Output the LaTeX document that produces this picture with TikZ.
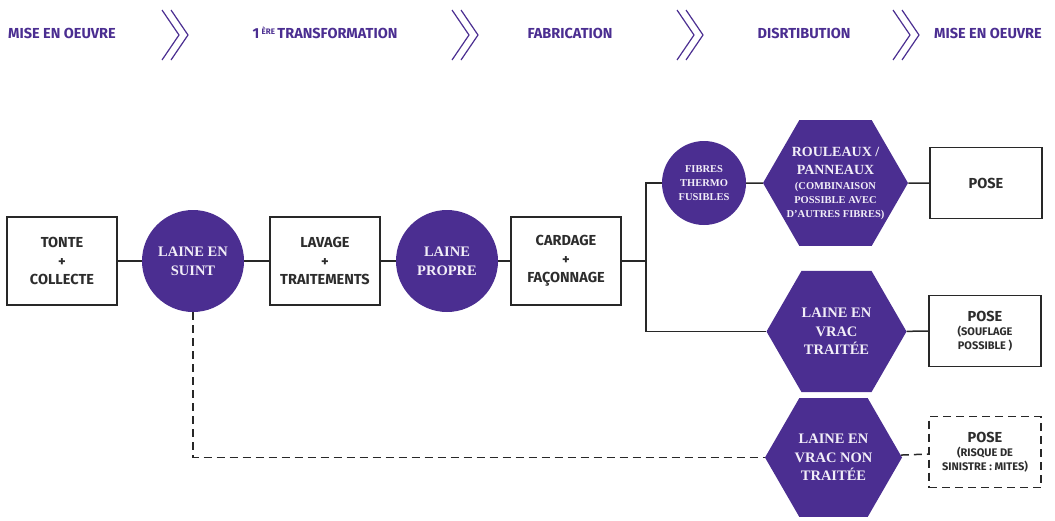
\documentclass[tikz,border=0pt]{standalone}
\usepackage{fontspec}
\setmainfont{Liberation Serif}
\setsansfont{Fira Sans}
\usetikzlibrary{shapes.geometric}
\definecolor{laineviolet}{RGB}{75,46,145}
\definecolor{trait}{RGB}{40,40,40}
\definecolor{texte}{RGB}{45,45,45}
\definecolor{clair}{RGB}{242,238,248}
\newcommand{\petitserif}{\fontsize{10.5}{14}\selectfont}
\newcommand{\petitsans}{\fontsize{11}{14}\selectfont}

\begin{document}
\begin{tikzpicture}[x=1pt,y=-1pt,
	etape/.style={text=laineviolet, font=\sffamily\bfseries\fontsize{14.5}{16}\selectfont},
	boite/.style={draw=trait, line width=1.5pt, fill=white, minimum width=110pt, minimum height=88pt,
		align=center, text=texte, font=\sffamily\bfseries\fontsize{14.5}{18.5}\selectfont},
	pose/.style={boite, minimum width=112pt, minimum height=71pt},
	rond/.style={circle, fill=laineviolet, inner sep=0pt, minimum size=102pt, align=center,
		text=clair, font=\bfseries\fontsize{14.5}{19}\selectfont},
	hexa/.style={regular polygon, regular polygon sides=6, fill=laineviolet, inner sep=0pt,
		minimum size=140pt, align=center, text=clair, font=\bfseries\fontsize{14.5}{18.5}\selectfont},
	lien/.style={draw=trait, line width=1.5pt},
	pointille/.style={lien, dash pattern=on 8pt off 5pt}]
	\useasboundingbox (0,0) rectangle (1055,520);
	
	% Etapes
	\node[etape] (miseA) at (62,33) {MISE EN OEUVRE};
	\node[etape] (transfo) at (325,33) {1\,\raisebox{4pt}{\fontsize{8}{8}\selectfont ÈRE}\,TRANSFORMATION};
	\node[etape] (fabric) at (570,33) {FABRICATION};
	\node[etape] (distrib) at (804,33) {DISRTIBUTION};
	\node[etape] (miseB) at (988,33) {MISE EN OEUVRE};
	
	% Chevrons
	\foreach \x in {162,452,677,893}{
		\draw[laineviolet, line width=1.2pt] (\x,10) -- ++(17,25) -- ++(-17,25);
		\draw[laineviolet, line width=1.2pt] (\x+9,10) -- ++(17,25) -- ++(-17,25);
	}
	
	% Ligne principale
	\node[boite] (tonte) at (62,261) {TONTE\\+\\COLLECTE};
	\node[rond] (suint) at (193,261) {LAINE EN\\SUINT};
	\node[boite] (lavage) at (325,261) {LAVAGE\\+\\TRAITEMENTS};
	\node[rond] (propre) at (447,261) {LAINE\\PROPRE};
	\node[boite] (cardage) at (566,261) {CARDAGE\\+\\FAÇONNAGE};
	\coordinate (branche) at (646,261);
	
	% Branches
	\node[rond, minimum size=84pt, font=\bfseries\fontsize{10.5}{14}\selectfont] (fibres) at (704,183) {FIBRES\\THERMO\\FUSIBLES};
	\node[hexa, minimum size=145pt, inner sep=-10pt, font=\bfseries\fontsize{14}{18}\selectfont] (rouleaux) at (835.5,183) {ROULEAUX /\\PANNEAUX\\[-3pt]
		\petitserif(COMBINAISON\\[-4pt]\petitserif POSSIBLE AVEC\\[-4pt]\petitserif D’AUTRES FIBRES)};
	\node[pose] (poseA) at (986,183) {POSE};
	\node[hexa] (vrac) at (836.5,331.5) {LAINE EN\\VRAC\\TRAITÉE};
	\node[pose] (poseB) at (985,331) {POSE\\[-5pt]\petitsans(SOUFLAGE\\[-4.5pt]\petitsans POSSIBLE )};
	\node[hexa, minimum size=137pt] (nonvrac) at (833.5,457.5) {LAINE EN\\VRAC NON\\TRAITÉE};
	\node[pose, dash pattern=on 8pt off 5pt] (poseC) at (985,452) {POSE\\[-5pt]\petitsans(RISQUE DE\\[-4.5pt]\petitsans SINISTRE : MITES)};
	
	% Liens
	\draw[lien] (tonte) -- (suint) -- (lavage) -- (propre) -- (cardage) -- (branche);
	\draw[lien] (fibres) -| (branche) |- (vrac);
	\draw[lien] (fibres) -- (rouleaux) -- (poseA);
	\draw[lien] (vrac) -- (poseB);
	\draw[pointille] (suint) |- (nonvrac);
	\draw[pointille] (nonvrac) -- (poseC);
\end{tikzpicture}
\end{document}
